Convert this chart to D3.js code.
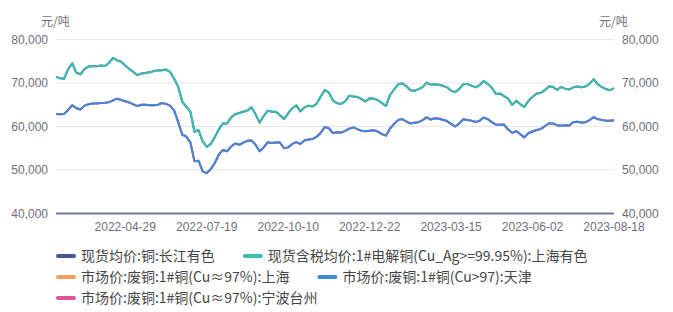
<!DOCTYPE html>
<meta charset="utf-8">
<style>
body { margin: 0; background: #fff; }
.tick-label { font: 12px "Liberation Sans", Arial, sans-serif; fill: #6e7079; }
.unit { font: 12px "Noto Sans CJK SC", sans-serif; fill: #6e7079; }
.legend text { font: 14px "Noto Sans CJK SC", sans-serif; fill: #464646; }
</style>
<script src="https://cdn.jsdelivr.net/npm/d3@7"></script>
<body>
<svg id="chart" width="673" height="312"></svg>
<script>
var shanghaiSpot = [
  71400, 71100, 71000, 73200, 74500, 72350, 72000, 73200, 73800, 73900,
  73850, 74000, 73900, 74600, 75800, 75200, 74900, 74000, 73200, 72550,
  71800, 72200, 72300, 72450, 72750, 72900, 72950, 73100, 72550, 71000,
  69150, 65700, 64500, 63400, 58800, 59200, 56600, 55300, 56000, 57600,
  59400, 60700, 60700, 62100, 62800, 63100, 63400, 63700, 64400, 62800,
  60900, 62400, 63650, 63400, 63400, 62600, 61700, 63000, 64200, 64850,
  63450, 64400, 64800, 64600, 65200, 66900, 68400, 67800, 66000, 65350,
  65200, 65800, 67100, 66900, 66800, 66300, 65750, 66500, 66400, 66050,
  65400, 64700, 67200, 68500, 69700, 69900, 69300, 68350, 68200, 68600,
  69050, 70100, 69600, 69700, 69600, 69350, 69000, 68200, 67900, 68600,
  69750, 69750, 69400, 69000, 69500, 70450, 69800, 68900, 67500, 67600,
  67000, 66400, 64950, 65900, 65100, 64500, 65900, 66800, 67600, 67700,
  68350, 69200, 69150, 68400, 69100, 68700, 68500, 69000, 69200, 69000,
  69200, 69800, 70900, 69700, 69100, 68600, 68350, 68800
];
var tianjinScrap = [
  62850, 62800, 62900, 63800, 64900, 64200, 63900, 64800, 65100, 65300,
  65300, 65400, 65450, 65600, 66000, 66400, 66100, 65800, 65500, 65100,
  64700, 65000, 65000, 64900, 64900, 65000, 65400, 65200, 64800, 63700,
  61000, 58100, 57700, 56300, 52000, 52100, 49700, 49300, 50200, 51600,
  53600, 54600, 54300, 55400, 56100, 55800, 56300, 56700, 56800, 55800,
  54300, 55200, 56400, 56200, 56300, 56300, 55000, 55200, 56000, 56400,
  56000, 56800, 57000, 57100, 57650, 58550, 59900, 59600, 58500, 58700,
  58600, 59000, 59500, 59800, 59400, 59000, 58900, 59050, 59150, 58850,
  58250, 57900, 59500, 60600, 61500, 61700, 61150, 60700, 60850, 61000,
  61450, 62100, 61600, 61900, 61800, 61550, 61250, 60600, 60000, 60700,
  61650, 61500, 61350, 61050, 61300, 62050, 61700, 61000, 60450, 60400,
  60450, 59300, 58550, 58950, 58200, 57500, 58500, 58850, 59200, 59400,
  60050, 60700, 60700, 60300, 60150, 60300, 60250, 61000, 61100, 60900,
  61000, 61450, 62150, 61700, 61500, 61350, 61300, 61450
];
// these lie under the lines above in the picture
var changjiang = shanghaiSpot;
var shanghaiScrap = tianjinScrap;
var ningboScrap = tianjinScrap;

var tickIdx = [17, 37, 57, 77, 97, 117, 137];
var tickLabels = ["2022-04-29", "2022-07-19", "2022-10-10", "2022-12-22", "2023-03-15", "2023-06-02", "2023-08-18"];
var yTicks = [40000, 50000, 60000, 70000, 80000];

var seriesNames = [
  "现货均价:铜:长江有色",
  "现货含税均价:1#电解铜(Cu_Ag>=99.95%):上海有色",
  "市场价:废铜:1#铜(Cu≈97%):上海",
  "市场价:废铜:1#铜(Cu>97):天津",
  "市场价:废铜:1#铜(Cu≈97%):宁波台州"
];
var seriesColors = ["#4b5594", "#3cbcb1", "#f5a05a", "#3f88dc", "#e0529b"];
var seriesData = [changjiang, shanghaiSpot, shanghaiScrap, tianjinScrap, ningboScrap];
var drawOrder = [2, 4, 3, 0, 1];

var svg = d3.select("#chart");
var plotLeft = 56, plotRight = 614, plotTop = 39.5, plotBottom = 213.5;

var x = d3.scaleLinear().domain([0, shanghaiSpot.length - 1]).range([plotLeft, plotRight]);
var y = d3.scaleLinear().domain([40000, 80000]).range([plotBottom, plotTop]);
var fmt = d3.format(",");

// grid
svg.append("g").selectAll("line")
  .data(yTicks.slice(1))
  .enter().append("line")
  .attr("x1", plotLeft).attr("x2", plotRight)
  .attr("y1", function(d) { return y(d); })
  .attr("y2", function(d) { return y(d); })
  .attr("stroke", "#e6e6ef").attr("stroke-width", 1);

// y labels both sides
svg.append("g").selectAll("text")
  .data(yTicks).enter().append("text")
  .attr("class", "tick-label")
  .attr("x", plotLeft - 8).attr("y", function(d) { return y(d) + 4; })
  .attr("text-anchor", "end")
  .text(fmt);
svg.append("g").selectAll("text")
  .data(yTicks).enter().append("text")
  .attr("class", "tick-label")
  .attr("x", plotRight + 8).attr("y", function(d) { return y(d) + 4; })
  .text(fmt);

svg.append("text").attr("class", "unit").attr("x", 41).attr("y", 26).text("元/吨");
svg.append("text").attr("class", "unit").attr("x", 599).attr("y", 26).text("元/吨");

// lines
var line = d3.line()
  .x(function(d, i) { return x(i); })
  .y(function(d) { return y(d); });

drawOrder.forEach(function(k) {
  svg.append("path")
    .datum(seriesData[k])
    .attr("fill", "none")
    .attr("stroke", seriesColors[k])
    .attr("stroke-width", 2)
    .attr("stroke-linejoin", "round")
    .attr("d", line);
});

// x axis line + labels
svg.append("line")
  .attr("x1", plotLeft).attr("x2", plotRight)
  .attr("y1", y(40000)).attr("y2", y(40000))
  .attr("stroke", "#74749c").attr("stroke-width", 2);

svg.append("g").selectAll("text")
  .data(tickIdx).enter().append("text")
  .attr("class", "tick-label")
  .attr("x", function(d) { return x(d); })
  .attr("y", 231)
  .attr("text-anchor", "middle")
  .text(function(d, i) { return tickLabels[i]; });

// legend, wraps like the original
var legend = svg.append("g").attr("class", "legend");
var lx = 56, ly = 256, maxX = 660;
seriesNames.forEach(function(name, i) {
  var g = legend.append("g");
  var t = g.append("text").attr("x", 25).attr("y", 5).text(name);
  var w = 25 + t.node().getComputedTextLength();
  if (lx + w > maxX && lx > 56) { lx = 56; ly += 21; }
  g.attr("transform", "translate(" + lx + "," + ly + ")");
  g.insert("line", "text")
    .attr("x1", 2).attr("x2", 18).attr("y1", 0).attr("y2", 0)
    .attr("stroke", seriesColors[i]).attr("stroke-width", 4)
    .attr("stroke-linecap", "round");
  lx += w + 28;
});
</script>
</body>
